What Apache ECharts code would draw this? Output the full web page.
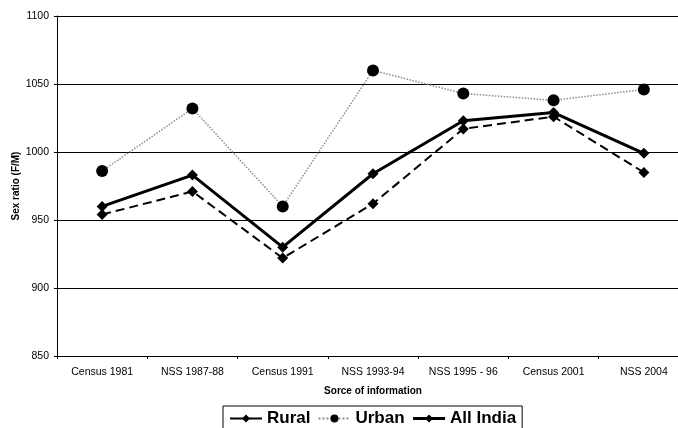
<!DOCTYPE html>
<html>
<head>
<meta charset="utf-8">
<script src="https://cdn.jsdelivr.net/npm/echarts@6/dist/echarts.min.js"></script>
<style>html,body{margin:0;padding:0;background:#fff}#c{width:678px;height:428px}</style>
</head>
<body>
<div id="c"></div>
<script>
var categories = ['Census 1981','NSS 1987-88','Census 1991','NSS 1993-94','NSS 1995 - 96','Census 2001','NSS 2004'];
var rural = [954, 971, 922, 962, 1017, 1026, 985];
var urban = [986, 1032, 960, 1060, 1043, 1038, 1046];
var allIndia = [960, 983, 930, 984, 1023, 1029, 999];
var yTicks = [850, 900, 950, 1000, 1050, 1100];

var chart = echarts.init(document.getElementById('c'));
var ff = '"Liberation Sans", Arial, sans-serif';
chart.setOption({
  animation: false,
  textStyle: {fontFamily: ff},
  grid: {left: 57, width: 632, top: 16, height: 340, containLabel: false, outerBoundsMode: 'none'},
  xAxis: {
    type: 'category', data: categories, boundaryGap: true,
    name: 'Sorce of information', nameLocation: 'middle', nameGap: 30,
    nameTextStyle: {fontSize: 10, fontWeight: 'bold', color: '#000', fontFamily: ff},
    axisLine: {lineStyle: {color: '#000', width: 1}},
    axisTick: {show: true, length: 3, interval: 0, lineStyle: {color: '#000'}},
    axisLabel: {fontSize: 10.5, color: '#000', margin: 11, interval: 0, hideOverlap: false, fontFamily: ff}
  },
  yAxis: {
    type: 'value', min: yTicks[0], max: yTicks[yTicks.length-1], interval: 50,
    name: 'Sex ratio (F/M)', nameLocation: 'middle', nameGap: 36, nameRotate: 90, nameMoveOverlap: false,
    nameTextStyle: {fontSize: 10, fontWeight: 'bold', color: '#000', fontFamily: ff},
    axisLine: {show: true, lineStyle: {color: '#000', width: 1}},
    axisTick: {show: true, length: 3, lineStyle: {color: '#000'}},
    axisLabel: {fontSize: 10.5, color: '#000', margin: 8, fontFamily: ff, formatter: function(v){return String(v);}},
    splitLine: {show: true, lineStyle: {color: '#000', width: 1}}
  },
  legend: {
    left: 223, top: 406,
    padding: [4, 6, 6, 6],
    itemGap: 7, itemWidth: 32, itemHeight: 10,
    borderColor: '#000', borderWidth: 1, borderRadius: 0,
    textStyle: {fontSize: 17, fontWeight: 'bold', color: '#000', fontFamily: ff},
    data: [
      {name: 'Rural', lineStyle: {type: 'solid', width: 2}},
      {name: 'Urban'},
      {name: 'All India', lineStyle: {width: 3}}
    ]
  },
  series: [
    {name: 'Rural', type: 'line', data: rural, symbol: 'diamond', symbolSize: 11,
     itemStyle: {color: '#000'}, lineStyle: {color: '#000', width: 2, type: [9, 5]}, z: 3},
    {name: 'Urban', type: 'line', data: urban, symbol: 'circle', symbolSize: 12,
     itemStyle: {color: '#000'}, lineStyle: {color: '#8c8c8c', width: 1.5, type: 'dotted'}, z: 2},
    {name: 'All India', type: 'line', data: allIndia, symbol: 'diamond', symbolSize: 11,
     itemStyle: {color: '#000'}, lineStyle: {color: '#000', width: 3}, z: 4}
  ]
});
</script>
</body>
</html>
